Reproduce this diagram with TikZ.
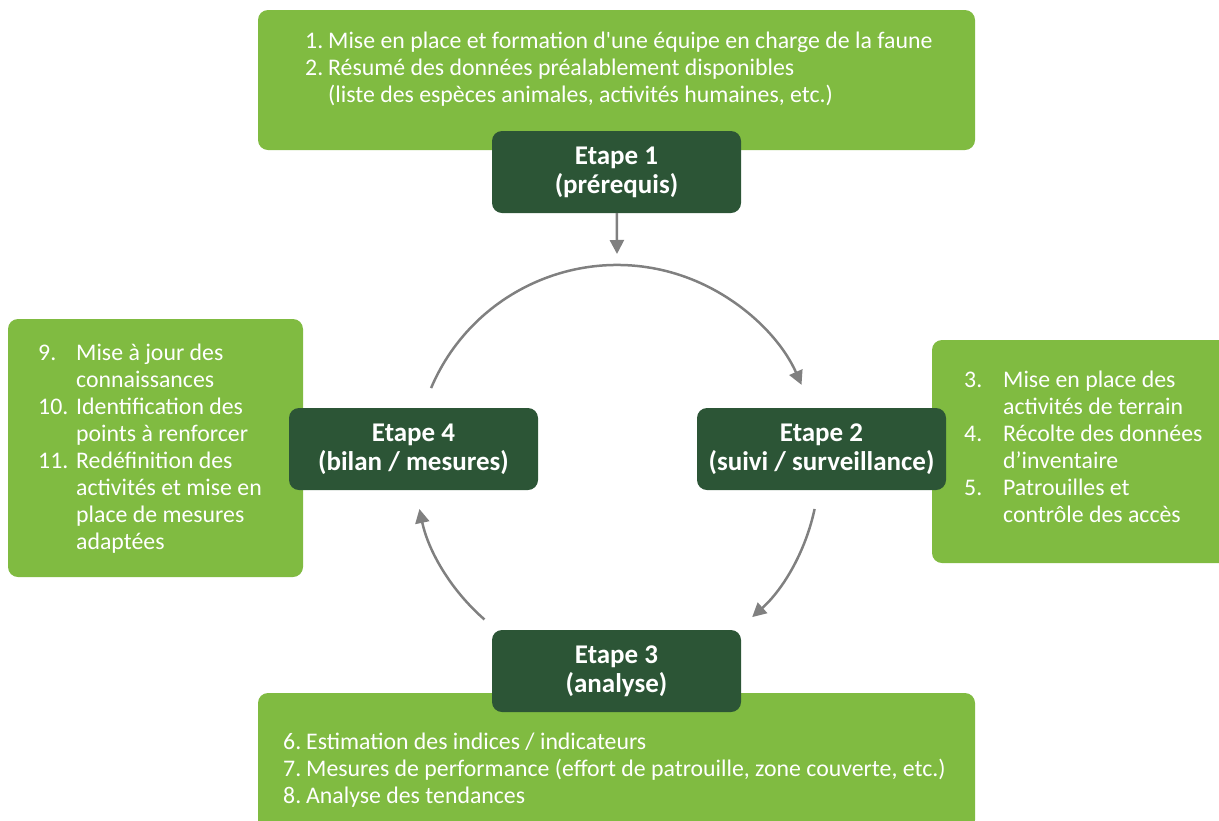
\documentclass[tikz,border=0pt]{standalone}
\usepackage{fontspec}
\setmainfont{Carlito}
\usetikzlibrary{arrows.meta}
\definecolor{leaf}{RGB}{128, 187, 65}
\definecolor{forest}{RGB}{44, 85, 54}
\definecolor{steel}{RGB}{128, 128, 128}

\tikzset{
  listbox/.style={fill=leaf, rounded corners=10pt, inner sep=0pt},
  stepbox/.style={fill=forest, rounded corners=10pt, text=white, align=center,
    font=\bfseries\fontsize{27}{29}\selectfont,
    minimum width=249pt, minimum height=82pt, inner sep=0pt},
  listtext/.style={text=white, anchor=north west, inner sep=0pt,
    font=\fontsize{23.8}{27}\selectfont},
  cycle/.style={draw=steel, line width=2.5pt, -{Triangle[length=14pt, width=14pt]}}
}

\begin{document}
\begin{tikzpicture}[x=1pt, y=-1pt]

  \useasboundingbox (0, 0) rectangle (1219, 820);
  \clip (0, 0) rectangle (1219, 820);

  % light boxes
  \node[listbox, minimum width=717pt, minimum height=140pt] (prebox) at (616.5, 80) {};
  \node[listbox, minimum width=295pt, minimum height=258pt] (bilanbox) at (155.5, 448) {};
  \node[listbox, minimum width=298pt, minimum height=223pt] (suivibox) at (1081, 451.5) {};
  \node[listbox, minimum width=717pt, minimum height=137pt] (analysebox) at (616.5, 761.5) {};

  % lists
  \node[listtext] (pretxt) at (305, 29) {\begin{tabular}{@{}p{23pt}@{}l@{}}
    1. & Mise en place et formation d\textquotesingle une équipe en charge de la faune\\
    2. & Résumé des données préalablement disponibles\\
       & (liste des espèces animales, activités humaines, etc.)
  \end{tabular}};
  \node[listtext] (bilantxt) at (38, 341) {\begin{tabular}{@{}p{38pt}@{}l@{}}
    9.  & Mise à jour des\\
        & connaissances\\
    10. & Identification des\\
        & points à renforcer\\
    11. & Redéfinition des\\
        & activités et mise en\\
        & place de mesures\\
        & adaptées
  \end{tabular}};
  \node[listtext] (suivitxt) at (964, 368) {\begin{tabular}{@{}p{39pt}@{}l@{}}
    3. & Mise en place des\\
       & activités de terrain\\
    4. & Récolte des données\\
       & d’inventaire\\
    5. & Patrouilles et\\
       & contrôle des accès
  \end{tabular}};
  \node[listtext] (analysetxt) at (283, 730) {\begin{tabular}{@{}p{23pt}@{}l@{}}
    6. & Estimation des indices / indicateurs\\
    7. & Mesures de performance (effort de patrouille, zone couverte, etc.)\\
    8. & Analyse des tendances
  \end{tabular}};

  % steps
  \node[stepbox] (step1) at (616.5, 172) {Etape 1\\(prérequis)};
  \node[stepbox] (step2) at (821.5, 449) {Etape 2\\(suivi / surveillance)};
  \node[stepbox] (step3) at (616.5, 671) {Etape 3\\(analyse)};
  \node[stepbox] (step4) at (413.5, 449) {Etape 4\\(bilan / mesures)};

  % cycle
  \coordinate (hub) at (617, 467);
  \coordinate (entry) at (617, 254);
  \draw[cycle] (step1) -- (entry);
  \draw[cycle] (hub) ++(-157:202) arc[start angle=-157, end angle=-24, radius=202];
  \draw[cycle] (hub) ++(12:202) arc[start angle=12, end angle=48, radius=202];
  \draw[cycle] (hub) ++(131:202) arc[start angle=131, end angle=168, radius=202];

\end{tikzpicture}
\end{document}
